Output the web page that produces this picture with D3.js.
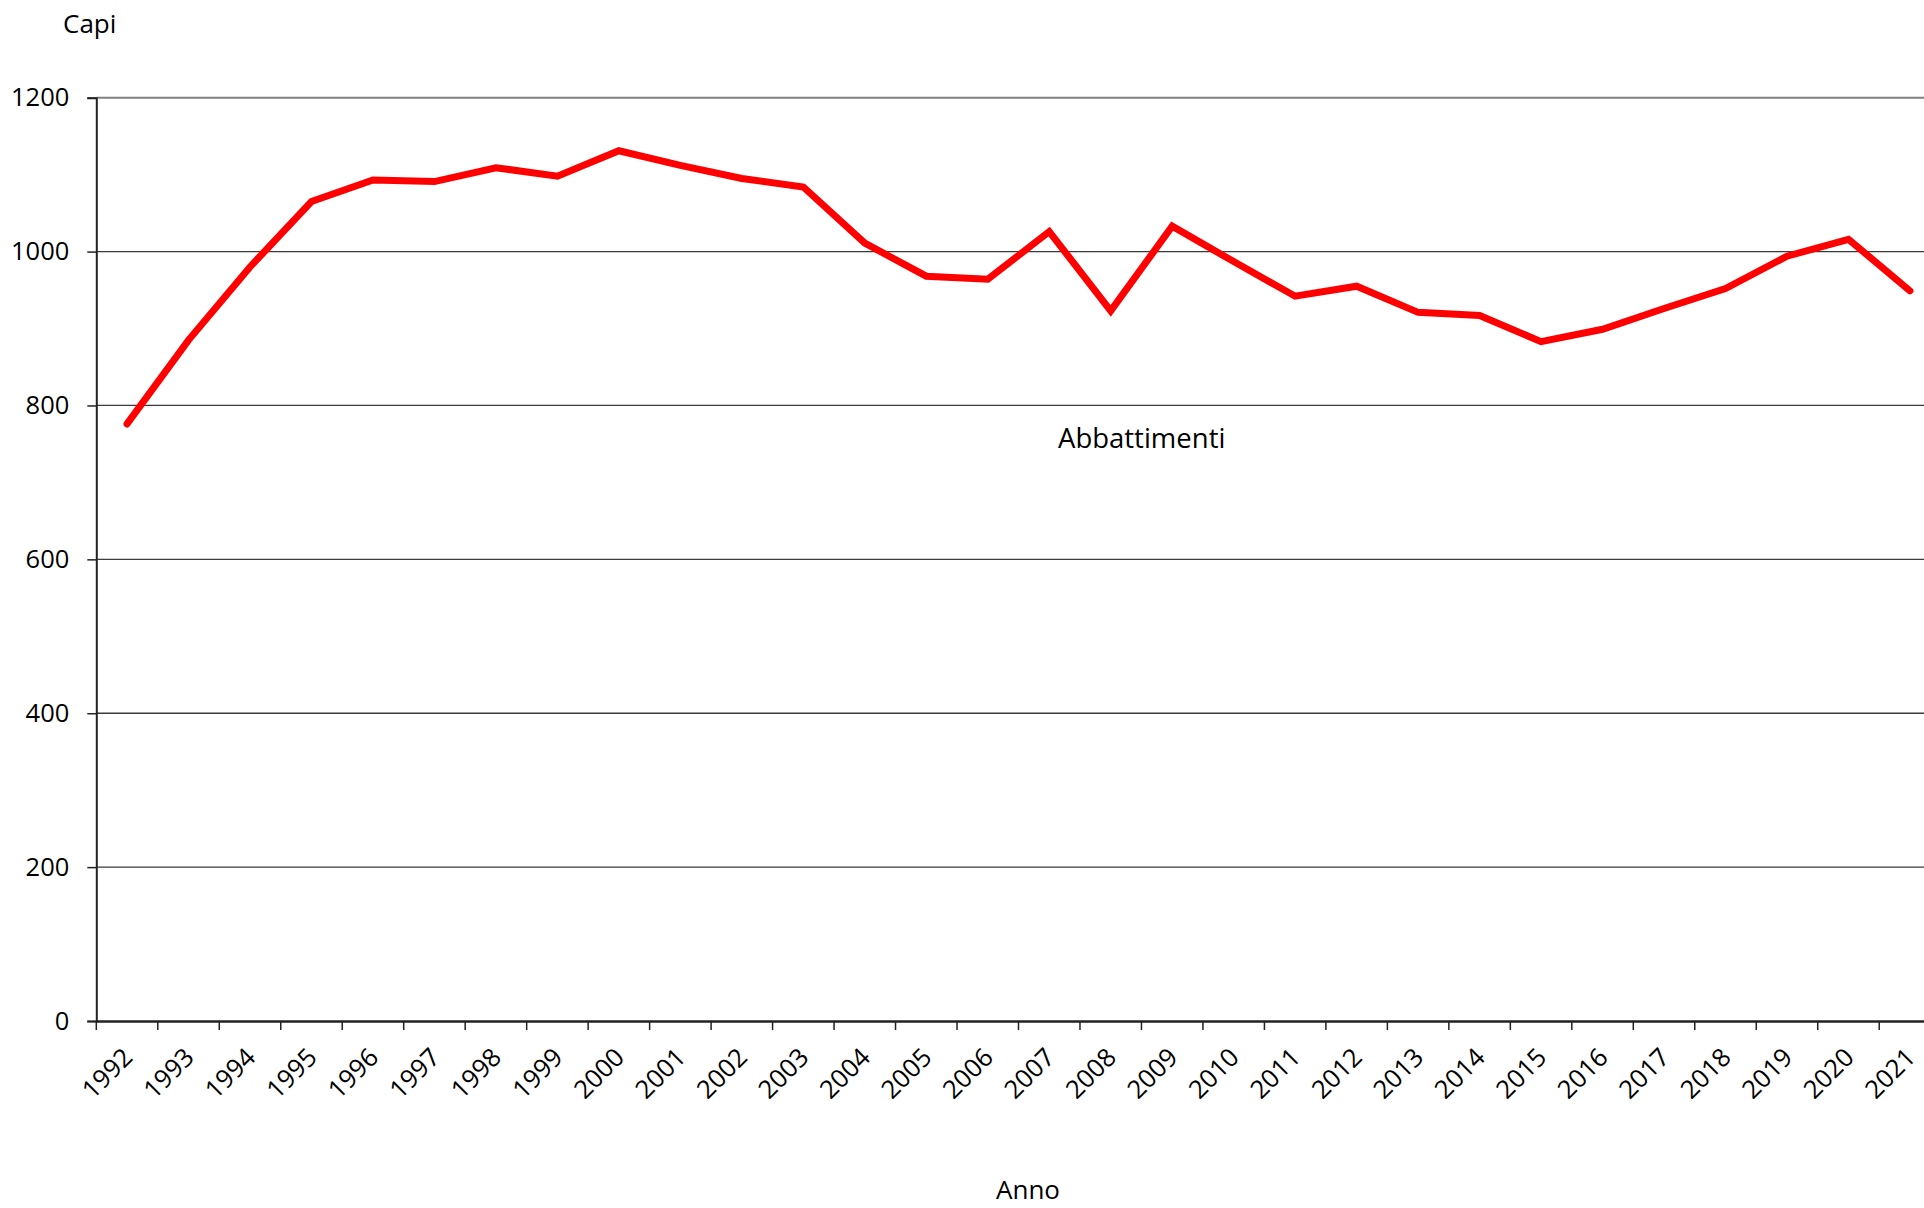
<!DOCTYPE html>
<html>
<head>
<meta charset="utf-8">
<script src="https://cdn.jsdelivr.net/npm/d3@7"></script>
<style>
  body { margin: 0; background: #fff; overflow: hidden; }
  svg { display: block; font-family: "Open Sans", sans-serif; }
</style>
</head>
<body>
<svg id="chart"></svg>
<script>
const years = [1992, 1993, 1994, 1995, 1996, 1997, 1998, 1999, 2000, 2001,
  2002, 2003, 2004, 2005, 2006, 2007, 2008, 2009, 2010, 2011,
  2012, 2013, 2014, 2015, 2016, 2017, 2018, 2019, 2020, 2021];
const abbattimenti = [776, 885, 980, 1065, 1093, 1091, 1109, 1098, 1131, 1112,
  1095, 1084, 1011, 968, 964, 1026, 923, 1033, 987, 942,
  955, 921, 917, 883, 899, 926, 952, 994, 1016, 949];
const yTicks = [0, 200, 400, 600, 800, 1000, 1200];

const width = 1924;
const height = 1208;
const plotLeft = 96.3;
const bandW = 61.48;
const plotTop = 97.7;
const plotBottom = 1021;

const svg = d3.select("#chart")
  .attr("width", width)
  .attr("height", height);

const x = d3.scaleBand()
  .domain(years)
  .range([plotLeft, plotLeft + bandW * years.length]);

const y = d3.scaleLinear()
  .domain([0, 1200])
  .range([plotBottom, plotTop]);

// gridlines
svg.append("g")
  .selectAll("line")
  .data(yTicks.filter((d) => d > 0))
  .enter()
  .append("line")
  .attr("x1", plotLeft)
  .attr("x2", width)
  .attr("y1", (d) => y(d))
  .attr("y2", (d) => y(d))
  .attr("stroke", (d) => (d === 1200 ? "#808080" : "#3a3a3a"))
  .attr("stroke-width", (d) => (d === 1200 ? 2 : 1.3));

// y axis
const yAxis = svg.append("g")
  .attr("transform", `translate(${plotLeft},0)`)
  .call(d3.axisLeft(y).tickValues(yTicks).tickSize(9).tickPadding(18).tickFormat(d3.format("d")));
yAxis.select(".domain").attr("stroke", "#222").attr("stroke-width", 2);
yAxis.selectAll(".tick line").attr("stroke", "#222").attr("stroke-width", 1.5);
yAxis.selectAll(".tick text")
  .attr("font-size", 25.5)
  .attr("fill", "#000")
  .attr("font-family", "Open Sans");

// x axis
const xAxis = svg.append("g")
  .attr("transform", `translate(0,${plotBottom})`)
  .call(d3.axisBottom(x).tickSize(0).tickFormat(""));
xAxis.select(".domain").attr("stroke", "#222").attr("stroke-width", 2.5);

// category boundary ticks
svg.append("g")
  .selectAll("line")
  .data(years)
  .enter()
  .append("line")
  .attr("x1", (d) => x(d))
  .attr("x2", (d) => x(d))
  .attr("y1", plotBottom)
  .attr("y2", plotBottom + 9)
  .attr("stroke", "#222")
  .attr("stroke-width", 1.5);

svg.append("g")
  .selectAll("text")
  .data(years)
  .enter()
  .append("text")
  .attr("transform", (d) => `translate(${x(d) + bandW / 2 + 7},${plotBottom + 38}) rotate(-45)`)
  .attr("text-anchor", "end")
  .attr("font-size", 25.5)
  .attr("fill", "#000")
  .text((d) => d);

// series line
const line = d3.line()
  .x((d, i) => x(years[i]) + bandW / 2)
  .y((d) => y(d));

svg.append("path")
  .datum(abbattimenti)
  .attr("d", line)
  .attr("fill", "none")
  .attr("stroke", "#ff0000")
  .attr("stroke-width", 7)
  .attr("stroke-linecap", "round")
  .attr("stroke-linejoin", "miter");

// labels
svg.append("text")
  .attr("x", 63)
  .attr("y", 33)
  .attr("font-size", 26)
  .text("Capi");

svg.append("text")
  .attr("x", 1028)
  .attr("y", 1199)
  .attr("text-anchor", "middle")
  .attr("font-size", 26)
  .text("Anno");

svg.append("text")
  .attr("x", 1058)
  .attr("y", 448)
  .attr("font-size", 27.5)
  .text("Abbattimenti");
</script>
</body>
</html>
